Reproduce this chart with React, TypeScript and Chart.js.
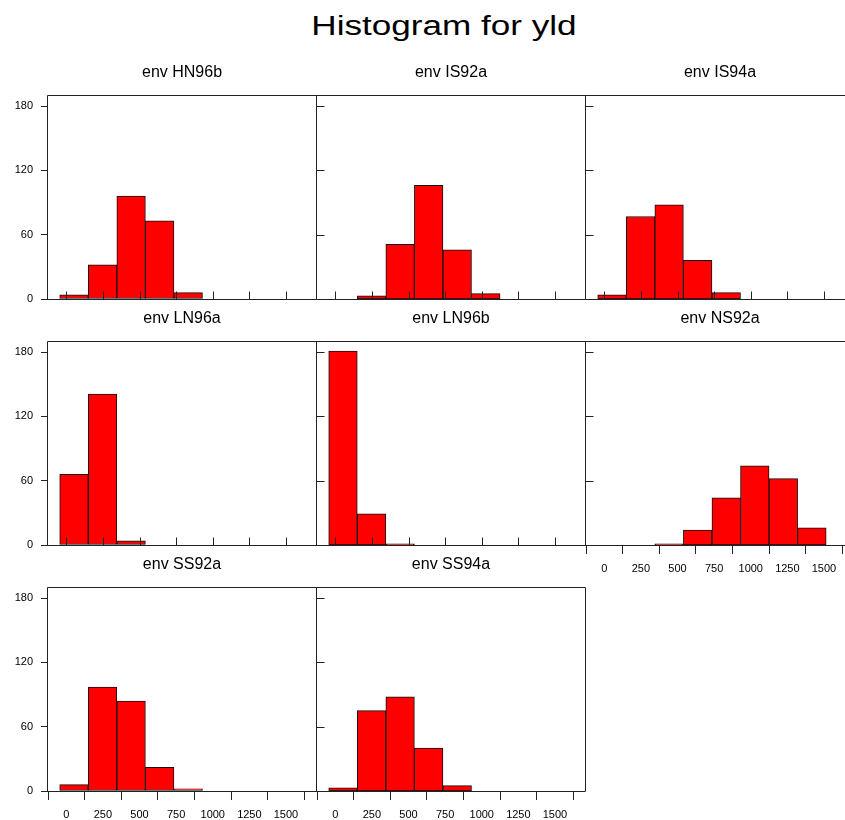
import React, { useEffect, useRef } from 'react';
import { Chart, registerables } from 'chart.js';

Chart.register(...registerables);

// ---------- data ----------
const binCenters = [52.5, 247.5, 442.5, 637.5, 832.5, 1027.5, 1222.5, 1417.5];
const xTicks = [0, 250, 500, 750, 1000, 1250, 1500];
const yTicks = [0, 60, 120, 180];

const HN96b = [4, 32, 96, 73, 6, 0, 0, 0];
const IS92a = [0, 3, 51, 106, 46, 5, 0, 0];
const IS94a = [4, 77, 88, 36, 6, 0, 0, 0];
const LN96a = [66, 141, 4, 0, 0, 0, 0, 0];
const LN96b = [181, 29, 1, 0, 0, 0, 0, 0];
const NS92a = [0, 0, 1, 14, 44, 74, 62, 16];
const SS92a = [6, 97, 84, 22, 2, 0, 0, 0];
const SS94a = [3, 75, 88, 40, 5, 0, 0, 0];

const mainTitle = 'Histogram for yld';

// ---------- layout ----------
const FONT = '"Liberation Sans", Arial, Helvetica, sans-serif';
const COL_LEFT = [48, 317, 586];
const ROW_TOP = [96, 342, 588];
const FRAME_W = 268;
const FRAME_H = 203;
const PAD_L = 48;
const PAD_R = 14;
const PAD_T = 40;
const PAD_B = 35;
const X_MIN = -125;
const X_MAX = 1705;
const Y_MAX = 189.5;

type PanelDef = {
  title: string;
  counts: number[];
  row: number;
  col: number;
  showX: boolean;
  rightTicks: boolean;
};

const panels: PanelDef[] = [
  { title: 'env HN96b', counts: HN96b, row: 0, col: 0, showX: false, rightTicks: true },
  { title: 'env IS92a', counts: IS92a, row: 0, col: 1, showX: false, rightTicks: true },
  { title: 'env IS94a', counts: IS94a, row: 0, col: 2, showX: false, rightTicks: true },
  { title: 'env LN96a', counts: LN96a, row: 1, col: 0, showX: false, rightTicks: true },
  { title: 'env LN96b', counts: LN96b, row: 1, col: 1, showX: false, rightTicks: true },
  { title: 'env NS92a', counts: NS92a, row: 1, col: 2, showX: true, rightTicks: true },
  { title: 'env SS92a', counts: SS92a, row: 2, col: 0, showX: true, rightTicks: true },
  { title: 'env SS94a', counts: SS94a, row: 2, col: 1, showX: true, rightTicks: false },
];

const latticePlugin = {
  id: 'lattice',
  afterDatasetsDraw(chart: any, _args: any, opts: any) {
    const { ctx, chartArea: a, scales } = chart;
    const x = scales.x;
    const y = scales.y;
    ctx.save();
    ctx.strokeStyle = '#222';
    ctx.lineWidth = 1;
    const L = Math.round(a.left) - 0.5;
    const R = Math.round(a.right) + 0.5;
    const T = Math.round(a.top) - 0.5;
    const B = Math.round(a.bottom) + 0.5;
    ctx.beginPath();
    ctx.rect(L, T, R - L, B - T);
    ctx.stroke();
    ctx.beginPath();
    if (opts.inwardX) {
      xTicks.forEach((v) => {
        const px = Math.round(x.getPixelForValue(v)) + 0.5;
        ctx.moveTo(px, B);
        ctx.lineTo(px, B - 8);
      });
    }
    if (opts.rightTicks) {
      yTicks.forEach((v) => {
        const py = Math.round(y.getPixelForValue(v)) + 0.5;
        ctx.moveTo(R, py);
        ctx.lineTo(R + 8, py);
      });
    }
    ctx.stroke();
    ctx.restore();
  },
};

function Panel({ p }: { p: PanelDef }) {
  const ref = useRef<HTMLCanvasElement | null>(null);
  const showY = p.col === 0;
  const width = PAD_L + FRAME_W + PAD_R;
  const height = PAD_T + FRAME_H + PAD_B;

  useEffect(() => {
    if (!ref.current) return;
    const chart = new Chart(ref.current, {
      type: 'bar',
      data: {
        datasets: [
          {
            data: binCenters.map((c, i) => ({ x: c, y: p.counts[i] })),
            backgroundColor: '#ff0000',
            borderColor: '#111',
            borderWidth: 1,
            borderSkipped: false,
            barPercentage: 1,
            categoryPercentage: 1,
          } as any,
        ],
      },
      options: {
        animation: false,
        responsive: false,
        devicePixelRatio: 1,
        events: [],
        layout: {
          padding: {
            left: showY ? 0 : PAD_L,
            right: PAD_R,
            top: 0,
            bottom: p.showX ? 0 : PAD_B,
          },
        },
        plugins: {
          legend: { display: false },
          tooltip: { enabled: false },
          title: {
            display: true,
            text: p.title,
            color: '#000',
            font: { family: FONT, size: 16, weight: 'normal' },
            padding: { top: 7, bottom: 13.8 },
            fullSize: false,
          },
          lattice: { inwardX: !p.showX, rightTicks: p.rightTicks },
        } as any,
        scales: {
          x: {
            type: 'linear',
            min: X_MIN,
            max: X_MAX,
            offset: false,
            display: p.showX,
            afterBuildTicks: (s: any) => {
              s.ticks = xTicks.map((v) => ({ value: v }));
            },
            afterFit: (s: any) => {
              s.height = p.showX ? PAD_B : 0;
            },
            grid: {
              display: true,
              drawOnChartArea: false,
              drawTicks: true,
              tickLength: 9,
              color: '#222',
              lineWidth: 1,
            },
            border: { display: false },
            ticks: {
              color: '#000',
              font: { family: FONT, size: 11 },
              padding: 8,
              maxRotation: 0,
              autoSkip: false,
              callback: (v: any) => String(v),
            },
          },
          y: {
            type: 'linear',
            min: 0,
            max: Y_MAX,
            display: showY,
            afterBuildTicks: (s: any) => {
              s.ticks = yTicks.map((v) => ({ value: v }));
            },
            afterFit: (s: any) => {
              s.width = showY ? PAD_L : 0;
            },
            grid: {
              display: true,
              drawOnChartArea: false,
              drawTicks: true,
              tickLength: 7,
              color: '#222',
              lineWidth: 1,
            },
            border: { display: false },
            ticks: {
              color: '#000',
              font: { family: FONT, size: 11 },
              padding: 8,
              autoSkip: false,
              callback: (v: any) => String(v),
            },
          },
        },
      } as any,
      plugins: [latticePlugin as any],
    });
    return () => chart.destroy();
  }, [p]);

  return (
    <canvas
      ref={ref}
      width={width}
      height={height}
      style={{
        position: 'absolute',
        left: COL_LEFT[p.col] - PAD_L,
        top: ROW_TOP[p.row] - PAD_T,
        width,
        height,
        display: 'block',
      }}
    />
  );
}

export default function App() {
  return (
    <div
      style={{
        position: 'absolute',
        left: 0,
        top: 0,
        width: 845,
        height: 820,
        overflow: 'hidden',
        background: '#fff',
      }}
    >
      <div
        style={{
          position: 'absolute',
          left: 444,
          top: 13,
          fontFamily: FONT,
          fontSize: 27,
          lineHeight: '27px',
          color: '#000',
          whiteSpace: 'nowrap',
          transform: 'translateX(-50%) scaleX(1.3)',
          transformOrigin: 'center',
        }}
      >
        {mainTitle}
      </div>
      {panels.map((p) => (
        <Panel key={p.title} p={p} />
      ))}
    </div>
  );
}
